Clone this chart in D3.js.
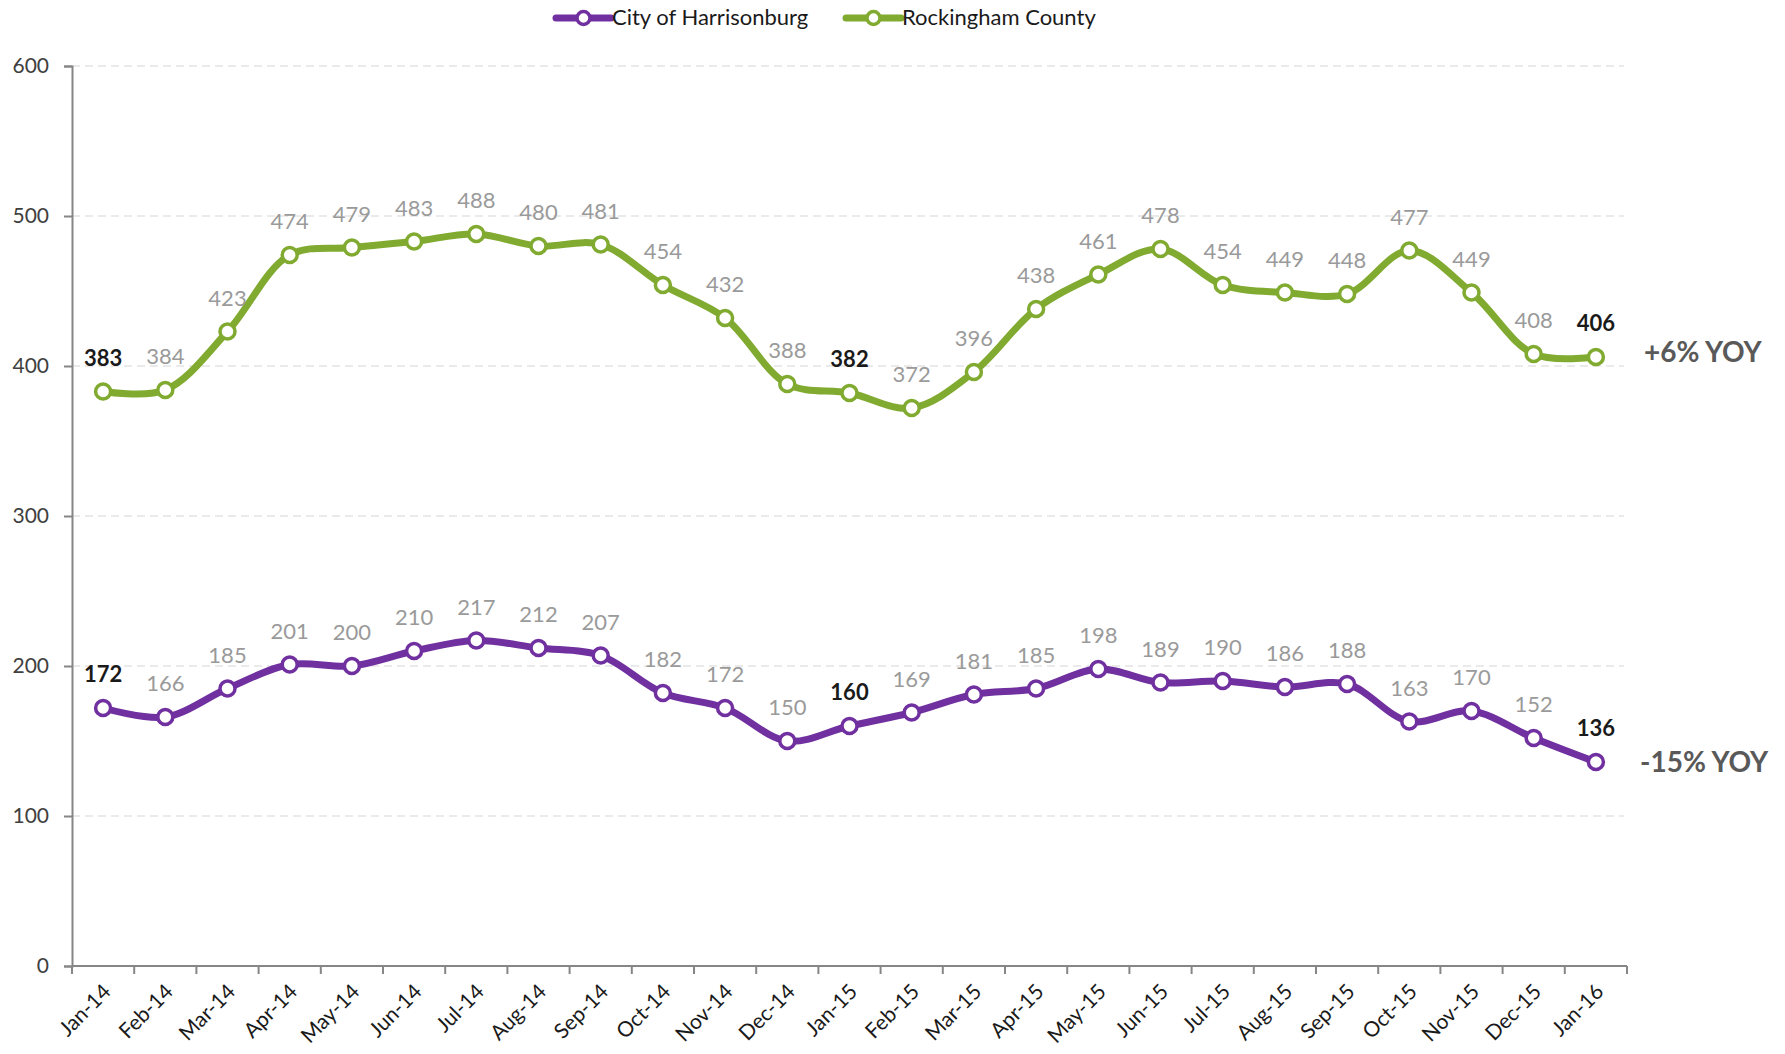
<!DOCTYPE html>
<html>
<head>
<meta charset="utf-8">
<script src="https://cdn.jsdelivr.net/npm/d3@7"></script>
<style>
  body { margin: 0; background: #fff; }
  svg { display: block; font-family: Lato, "Open Sans", sans-serif; }
</style>
</head>
<body>
<svg id="chart" width="1785" height="1054"></svg>
<script>
// Months on the category axis.
const months = ["Jan-14","Feb-14","Mar-14","Apr-14","May-14","Jun-14","Jul-14","Aug-14","Sep-14","Oct-14","Nov-14","Dec-14",
  "Jan-15","Feb-15","Mar-15","Apr-15","May-15","Jun-15","Jul-15","Aug-15","Sep-15","Oct-15","Nov-15","Dec-15","Jan-16"];

const harrisonburg = [172,166,185,201,200,210,217,212,207,182,172,150,160,169,181,185,198,189,190,186,188,163,170,152,136];
const rockingham = [383,384,423,474,479,483,488,480,481,454,432,388,382,372,396,438,461,478,454,449,448,477,449,408,406];

const yTicks = [0,100,200,300,400,500,600];
const seriesNames = ["City of Harrisonburg","Rockingham County"];
const yoyLabels = ["-15% YOY","+6% YOY"];
// Which points get the bold black label.
const boldMonths = ["Jan-14","Jan-15","Jan-16"];

const colors = ["#7030a0","#80aa30"];

const svg = d3.select("#chart");

const x = d3.scaleBand().domain(months).range([72, 1627]).padding(0);
const y = d3.scaleLinear().domain([0, 600]).range([966, 66]);

// Gridlines.
svg.append("g")
  .selectAll("line")
  .data(yTicks.filter(d => d > 0))
  .join("line")
    .attr("x1", 72)
    .attr("x2", 1624)
    .attr("y1", d => y(d))
    .attr("y2", d => y(d))
    .attr("stroke", "#e4e4e4")
    .attr("stroke-width", 1.5)
    .attr("stroke-dasharray", "8,5");

// Y axis.
let gy = svg.append("g")
  .attr("transform", "translate(72,0)")
  .call(d3.axisLeft(y).tickValues(yTicks).tickSize(8).tickPadding(15));
gy.select(".domain").attr("stroke", "#868686").attr("stroke-width", 2);
gy.selectAll(".tick line").attr("stroke", "#868686").attr("stroke-width", 2);
gy.selectAll("text").attr("font-size", 21).attr("fill", "#404040").attr("font-family", "Lato, sans-serif");

// X axis: ticks sit between the categories.
let gx = svg.append("g").attr("transform", "translate(0,966)");
gx.append("line")
  .attr("x1", 72).attr("x2", 1627)
  .attr("stroke", "#868686").attr("stroke-width", 2);
gx.selectAll("line.tk")
  .data(months.concat(["end"]))
  .join("line")
    .attr("class", "tk")
    .attr("x1", (d, i) => 72 + i * x.bandwidth())
    .attr("x2", (d, i) => 72 + i * x.bandwidth())
    .attr("y1", 0)
    .attr("y2", 8)
    .attr("stroke", "#868686")
    .attr("stroke-width", 2);
gx.selectAll("text")
  .data(months)
  .join("text")
    .attr("transform", d => `translate(${x(d) + x.bandwidth() / 2 + 9},${27}) rotate(-45)`)
    .attr("text-anchor", "end")
    .attr("font-size", 21)
    .attr("fill", "#1a1a1a")
    .text(d => d);

// Series lines.
const series = [harrisonburg, rockingham];
const cx = (d, i) => x(months[i]) + x.bandwidth() / 2;

const line = d3.line()
  .x(cx)
  .y(d => y(d))
  .curve(d3.curveCatmullRom.alpha(0.5));

series.forEach(function(vals, s){
  let g = svg.append("g");
  g.append("path")
    .datum(vals)
    .attr("d", line)
    .attr("fill", "none")
    .attr("stroke", colors[s])
    .attr("stroke-width", 7)
    .attr("stroke-linejoin", "round");
  g.selectAll("circle")
    .data(vals)
    .join("circle")
      .attr("cx", cx)
      .attr("cy", d => y(d))
      .attr("r", 7.5)
      .attr("fill", "#fff")
      .attr("stroke", colors[s])
      .attr("stroke-width", 3.5);
  g.selectAll("text")
    .data(vals)
    .join("text")
      .attr("x", cx)
      .attr("y", d => y(d) - 26)
      .attr("text-anchor", "middle")
      .attr("font-size", 22)
      .attr("font-weight", (d, i) => boldMonths.includes(months[i]) ? "bold" : "normal")
      .attr("fill", (d, i) => boldMonths.includes(months[i]) ? "#1a1a1a" : "#9a9a9a")
      .text(d => d);

  // YOY note at the end of the line.
  let last = vals[vals.length - 1];
  svg.append("text")
    .attr("x", s == 0 ? 1640 : 1644)
    .attr("y", y(last) + (s == 0 ? 3 : -2))
    .attr("dominant-baseline", "middle")
    .attr("font-size", 28)
    .attr("font-weight", "bold")
    .attr("fill", "#595959")
    .text(yoyLabels[s]);
});

// Legend.
const legendX = [556, 846];
seriesNames.forEach(function(name, s){
  let lg = svg.append("g").attr("transform", `translate(${legendX[s]},18)`);
  lg.append("line")
    .attr("x1", 0).attr("x2", 55)
    .attr("stroke", colors[s]).attr("stroke-width", 7).attr("stroke-linecap", "round");
  lg.append("circle")
    .attr("cx", 27.5).attr("r", 6.5)
    .attr("fill", "#fff").attr("stroke", colors[s]).attr("stroke-width", 3.5);
  lg.append("text")
    .attr("x", 56).attr("y", 1)
    .attr("dominant-baseline", "middle")
    .attr("font-size", 22)
    .attr("fill", "#1a1a1a")
    .text(name);
});
</script>
</body>
</html>
